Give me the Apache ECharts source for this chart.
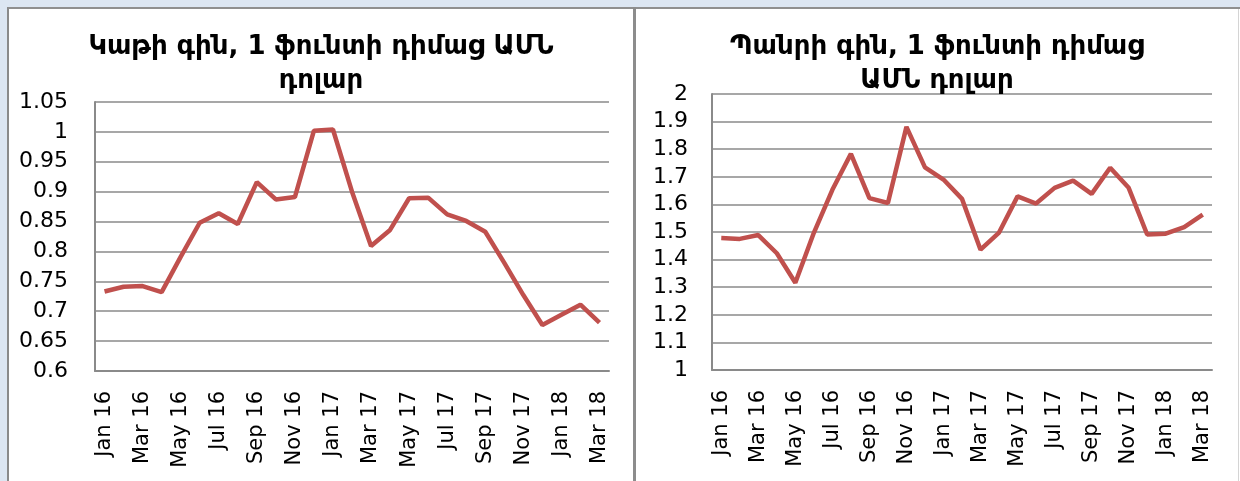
<!DOCTYPE html>
<html>
<head>
<meta charset="utf-8">
<title>Կաթի և պանրի գին</title>
<script src="https://cdn.jsdelivr.net/npm/echarts@6/dist/echarts.min.js"></script>
<style>
  html, body { margin: 0; padding: 0; }
  body { width: 1240px; height: 481px; background: #dce6f2; overflow: hidden; position: relative; }
  .frame {
    position: absolute; left: 7px; top: 7px; width: 1233px; height: 474px;
    box-sizing: border-box; background: #fff;
    border-top: 2px solid #8f8f8f; border-left: 2px solid #8a8a8a;
  }
  .divider { position: absolute; left: 633px; top: 7px; width: 3px; height: 474px; background: #8c8c8c; }
  .edge { position: absolute; left: 1238px; top: 9px; width: 1px; height: 472px; background: #d4d4d4; }
  #milk { position: absolute; left: 9px; top: 9px; width: 624px; height: 472px; }
  #cheese { position: absolute; left: 636px; top: 9px; width: 602px; height: 472px; }
</style>
</head>
<body>
<div class="frame"></div>
<div class="divider"></div>
<div class="edge"></div>
<div id="milk"></div>
<div id="cheese"></div>
<script>
// months, Jan 2016 .. Mar 2018
var months = [
  'Jan 16', 'Feb 16', 'Mar 16', 'Apr 16', 'May 16', 'Jun 16', 'Jul 16', 'Aug 16', 'Sep 16',
  'Oct 16', 'Nov 16', 'Dec 16', 'Jan 17', 'Feb 17', 'Mar 17', 'Apr 17', 'May 17', 'Jun 17',
  'Jul 17', 'Aug 17', 'Sep 17', 'Oct 17', 'Nov 17', 'Dec 17', 'Jan 18', 'Feb 18', 'Mar 18'
];

// milk price, USD per pound
var milkPrice = [
  0.733, 0.741, 0.742, 0.732, 0.791, 0.848, 0.864, 0.846, 0.916,
  0.887, 0.891, 1.002, 1.004, 0.900, 0.809, 0.836, 0.889, 0.890,
  0.862, 0.851, 0.833, 0.781, 0.727, 0.677, 0.694, 0.711, 0.681
];

// cheese price, USD per pound
var cheesePrice = [
  1.478, 1.475, 1.489, 1.423, 1.316, 1.497, 1.653, 1.783, 1.623,
  1.605, 1.881, 1.734, 1.690, 1.620, 1.436, 1.498, 1.629, 1.603,
  1.660, 1.686, 1.638, 1.733, 1.660, 1.491, 1.494, 1.518, 1.563
];

var milkAxis = { min: 0.6, max: 1.05, step: 0.05 };
var cheeseAxis = { min: 1, max: 2, step: 0.1 };

var milkTitle = 'Կաթի գին, 1 ֆունտի դիմաց ԱՄՆ\nդոլար';
var cheeseTitle = 'Պանրի գին, 1 ֆունտի դիմաց\nԱՄՆ դոլար';

var labelFont = '"DejaVu Sans", sans-serif';
var gray = '#8a8a8a';

function buildOption(title, values, axis, grid, yMargin) {
  return {
    animation: false,
    title: {
      text: title,
      left: 'center',
      top: 21,
      padding: 0,
      textStyle: {
        fontFamily: labelFont,
        fontSize: 26,
        fontWeight: 'bold',
        color: '#000',
        lineHeight: 34
      }
    },
    grid: grid,
    xAxis: {
      type: 'category',
      data: months,
      boundaryGap: true,
      axisLine: { lineStyle: { color: gray, width: 2 } },
      axisTick: { show: false },
      axisLabel: {
        interval: 1,
        rotate: 90,
        margin: 20,
        color: '#000',
        fontFamily: labelFont,
        fontSize: 21
      }
    },
    yAxis: {
      type: 'value',
      min: axis.min,
      max: axis.max,
      interval: axis.step,
      axisLine: { show: true, lineStyle: { color: gray, width: 2 } },
      axisTick: { show: false },
      splitLine: { lineStyle: { color: gray, width: 1.5 } },
      axisLabel: {
        margin: yMargin,
        color: '#000',
        fontFamily: labelFont,
        fontSize: 22,
        formatter: function (v) { return String(parseFloat(v.toFixed(2))); }
      }
    },
    series: [
      {
        type: 'line',
        data: values,
        symbol: 'none',
        lineStyle: { color: '#c0504d', width: 4.5 },
        itemStyle: { color: '#c0504d' }
      }
    ]
  };
}

var milkChart = echarts.init(document.getElementById('milk'));
milkChart.setOption(buildOption(milkTitle, milkPrice, milkAxis,
  { left: 86, right: 24, top: 93, bottom: 110 }, 27));

var cheeseChart = echarts.init(document.getElementById('cheese'));
cheeseChart.setOption(buildOption(cheeseTitle, cheesePrice, cheeseAxis,
  { left: 76, right: 26, top: 85, bottom: 111 }, 24));
</script>
</body>
</html>
